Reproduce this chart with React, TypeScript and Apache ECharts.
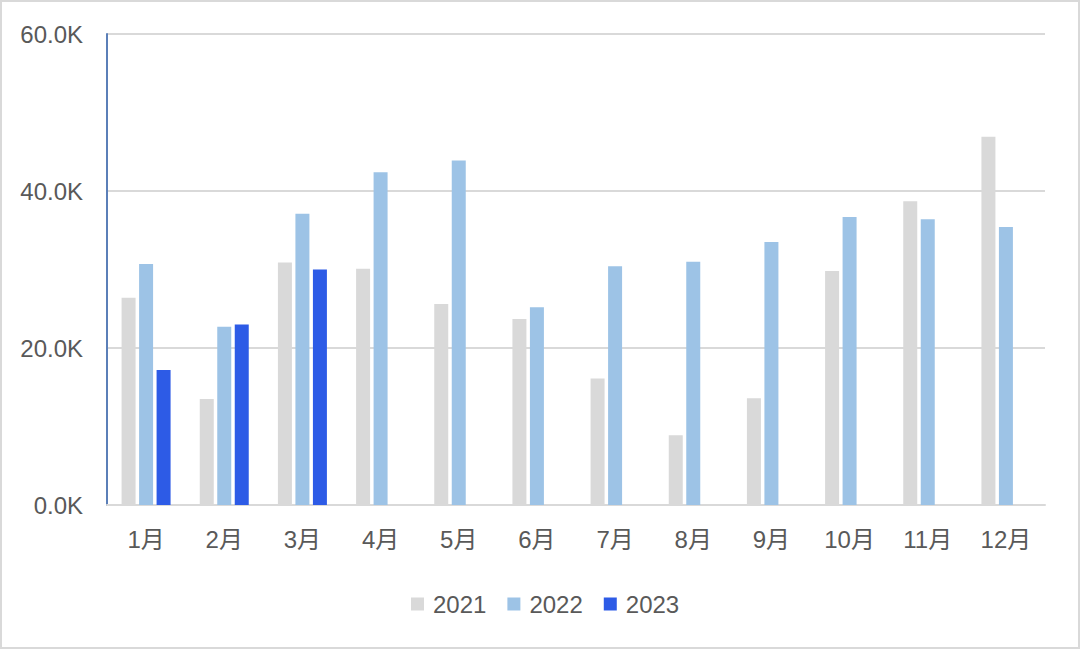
import React, { useEffect, useRef } from "react";
import * as echarts from "echarts";

const categories = ["1月", "2月", "3月", "4月", "5月", "6月", "7月", "8月", "9月", "10月", "11月", "12月"];
const seriesNames = ["2021", "2022", "2023"];
const values2021 = [26400, 13500, 30900, 30100, 25600, 23700, 16100, 8900, 13600, 29800, 38700, 46900];
const values2022 = [30700, 22700, 37100, 42400, 43900, 25200, 30400, 31000, 33500, 36700, 36400, 35400];
const values2023: (number | null)[] = [17200, 23000, 30000, null, null, null, null, null, null, null, null, null];
const yTicks = { min: 0, max: 60000, interval: 20000 };
const colors = ["#d9d9d9", "#9dc3e6", "#2d5be6"];

const FONT = "'Liberation Sans', 'Noto Sans CJK SC', sans-serif";

export default function App() {
  const ref = useRef<HTMLDivElement>(null);
  useEffect(() => {
    if (!ref.current) return;
    const chart = echarts.init(ref.current, undefined, { renderer: "svg" });
    const data = [values2021, values2022, values2023];
    chart.setOption({
      animation: false,
      textStyle: { fontFamily: FONT },
      grid: { left: 105, right: 33, top: 32, bottom: 142, containLabel: false },
      legend: {
        data: seriesNames,
        left: 409,
        top: 590,
        padding: 0,
        itemWidth: 13,
        itemHeight: 13,
        itemGap: 21,
        icon: "rect",
        textStyle: { fontSize: 24, color: "#595959", fontFamily: FONT, padding: [0, 0, 0, 4] },
      },
      xAxis: {
        type: "category",
        data: categories,
        axisLine: { lineStyle: { color: "#d9d9d9", width: 2 } },
        axisTick: { show: false },
        axisLabel: { fontSize: 24, color: "#595959", margin: 22, fontFamily: FONT },
      },
      yAxis: {
        type: "value",
        min: yTicks.min,
        max: yTicks.max,
        interval: yTicks.interval,
        axisLine: { show: true, lineStyle: { color: "#5b7fb8", width: 2 } },
        axisTick: { show: false },
        splitLine: { lineStyle: { color: "#d9d9d9", width: 2 } },
        axisLabel: {
          fontSize: 24,
          color: "#595959",
          margin: 24,
          fontFamily: FONT,
          formatter: (v: number) => (v / 1000).toFixed(1) + "K",
        },
      },
      series: seriesNames.map((name, i) => ({
        name,
        type: "bar",
        data: data[i],
        barWidth: 14,
        barGap: "25%",
        itemStyle: { color: colors[i] },
      })),
    });
    return () => chart.dispose();
  }, []);
  return (
    <div
      style={{
        position: "fixed",
        left: 0,
        top: 0,
        width: 1080,
        height: 649,
        boxSizing: "border-box",
        border: "2px solid #d9d9d9",
        background: "#fff",
      }}
    >
      <div ref={ref} style={{ width: 1076, height: 645 }} />
    </div>
  );
}
